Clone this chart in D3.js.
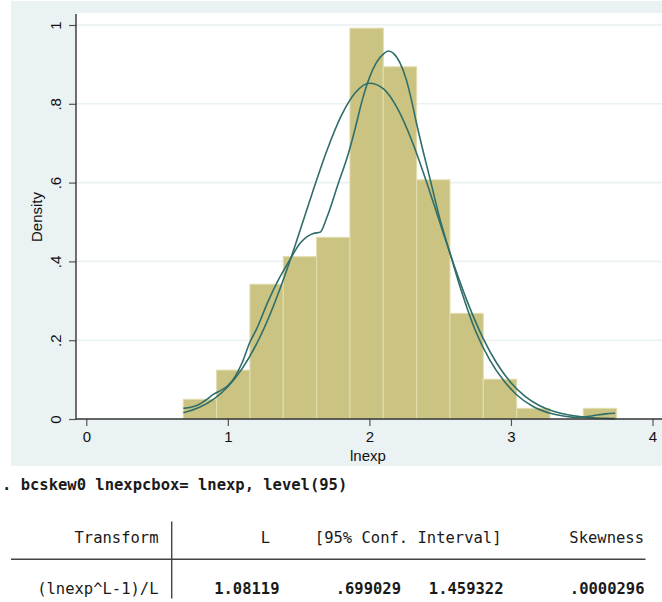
<!DOCTYPE html>
<html>
<head>
<meta charset="utf-8">
<script src="https://cdn.jsdelivr.net/npm/d3@7"></script>
<style>
  body { margin: 0; background: #fff; }
  svg { display: block; }
</style>
</head>
<body>
<svg id="chart" width="662" height="602"></svg>
<script>
// Histogram of lnexp (density scale)
const binStart = 0.685;
const binWidth = 0.2355;
const barDensity = [0.050, 0.124, 0.342, 0.412, 0.461, 0.992, 0.894, 0.607, 0.268, 0.101, 0.027, 0, 0.027];

// Kernel density estimate
const kernelX = [0.686, 0.74, 0.78, 0.84, 0.90, 0.957, 1.00, 1.05, 1.10, 1.157, 1.20, 1.286, 1.35, 1.44, 1.51, 1.56, 1.604, 1.652, 1.70, 1.78, 1.85, 1.90, 1.95, 2.00, 2.05, 2.10, 2.134, 2.17, 2.217, 2.26, 2.30, 2.33, 2.43, 2.50, 2.57, 2.65, 2.747, 2.85, 2.95, 3.042, 3.15, 3.277, 3.38, 3.466, 3.54, 3.607, 3.67, 3.736];
const kernelY = [0.027, 0.030, 0.034, 0.047, 0.063, 0.074, 0.085, 0.107, 0.142, 0.196, 0.226, 0.300, 0.348, 0.405, 0.446, 0.463, 0.471, 0.474, 0.512, 0.598, 0.672, 0.738, 0.810, 0.866, 0.905, 0.927, 0.934, 0.928, 0.903, 0.862, 0.805, 0.755, 0.607, 0.505, 0.420, 0.325, 0.226, 0.150, 0.097, 0.061, 0.033, 0.0145, 0.007, 0.004, 0.006, 0.010, 0.013, 0.0145];

// Normal density overlay
const normalX = [0.686, 0.8, 0.9, 1.0, 1.1, 1.2, 1.3, 1.4, 1.5, 1.6, 1.7, 1.8, 1.9, 2.0, 2.1, 2.2, 2.3, 2.4, 2.5, 2.6, 2.7, 2.8, 2.9, 3.0, 3.1, 3.2, 3.3, 3.4, 3.5, 3.6, 3.7, 3.736];
const normalY = [0.0157, 0.0296, 0.0504, 0.0819, 0.1271, 0.1885, 0.2671, 0.3616, 0.4675, 0.5776, 0.6816, 0.7686, 0.8280, 0.8522, 0.8379, 0.7871, 0.7064, 0.6056, 0.4961, 0.3882, 0.2903, 0.2073, 0.1414, 0.0922, 0.0575, 0.0342, 0.0194, 0.0106, 0.0055, 0.0027, 0.0013, 0.0009];

// Axis ticks and titles
const xTicks = [0, 1, 2, 3, 4];
const yTicks = [0, 0.2, 0.4, 0.6, 0.8, 1];
const yTickLabels = ["0", ".2", ".4", ".6", ".8", "1"];
const xTitle = "lnexp";
const yTitle = "Density";

// Console output below the graph
const command = ". bcskew0 lnexpcbox= lnexp, level(95)";
const headerCells = ["Transform", "L", "[95% Conf. Interval]", "Skewness"];
const rowCells = ["(lnexp^L-1)/L", "1.08119", ".699029", "1.459322", ".0000296"];

const svg = d3.select("#chart");
const sansFont = "'Liberation Sans', Arial, Helvetica, sans-serif";
const monoFont = "'DejaVu Sans Mono', monospace";

// graph region and plot region
const region = { left: 11, top: 1, right: 662, bottom: 466 };
const plot = { left: 76, top: 13, right: 662, bottom: 419 };

svg.append("rect")
  .attr("x", region.left).attr("y", region.top)
  .attr("width", region.right - region.left).attr("height", region.bottom - region.top)
  .attr("fill", "#eaf2f3");

svg.append("rect")
  .attr("x", plot.left).attr("y", plot.top)
  .attr("width", plot.right - plot.left).attr("height", plot.bottom - plot.top)
  .attr("fill", "#ffffff");

const x = d3.scaleLinear().domain([0, 4]).range([86.3, 652.5]);
const y = d3.scaleLinear().domain([0, 1]).range([419, 25]);

// horizontal grid lines
svg.append("g").selectAll("line")
  .data(yTicks.filter(d => d > 0))
  .join("line")
  .attr("x1", plot.left).attr("x2", plot.right)
  .attr("y1", d => y(d)).attr("y2", d => y(d))
  .attr("stroke", "#e9f1f2").attr("stroke-width", 1.6);

// histogram bars
const bars = barDensity.map((d, i) => ({ x0: binStart + i * binWidth, x1: binStart + (i + 1) * binWidth, d }));
svg.append("g").selectAll("rect")
  .data(bars.filter(b => b.d > 0))
  .join("rect")
  .attr("x", b => x(b.x0))
  .attr("y", b => y(b.d))
  .attr("width", b => x(b.x1) - x(b.x0))
  .attr("height", b => y(0) - y(b.d))
  .attr("fill", "#cac381")
  .attr("stroke", "#e1ddae")
  .attr("stroke-width", 1.1);

// density curves
const line = d3.line().x(p => x(p[0])).y(p => y(p[1])).curve(d3.curveMonotoneX);
const curveColor = "#2f6e6a";
svg.append("path")
  .attr("d", line(normalX.map((v, i) => [v, normalY[i]])))
  .attr("fill", "none").attr("stroke", curveColor).attr("stroke-width", 1.6);
svg.append("path")
  .attr("d", line(kernelX.map((v, i) => [v, kernelY[i]])))
  .attr("fill", "none").attr("stroke", curveColor).attr("stroke-width", 1.6);

// y axis
const yAxis = svg.append("g")
  .attr("transform", `translate(${plot.left},0)`)
  .call(d3.axisLeft(y).tickValues(yTicks).tickFormat((d, i) => yTickLabels[i]).tickSize(7).tickSizeOuter(0));
yAxis.select(".domain").remove();
yAxis.selectAll(".tick line").attr("stroke", "#555").attr("stroke-width", 1.2);
yAxis.selectAll(".tick text")
  .attr("x", null).attr("dy", null)
  .attr("text-anchor", "middle")
  .attr("transform", "translate(-15.5,0) rotate(-90)")
  .attr("fill", "#111")
  .style("font-family", sansFont).style("font-size", "15px");

// x axis
const xAxis = svg.append("g")
  .attr("transform", `translate(0,${plot.bottom})`)
  .call(d3.axisBottom(x).tickValues(xTicks).tickFormat(d3.format("d")).tickSize(7).tickSizeOuter(0));
xAxis.select(".domain").remove();
xAxis.selectAll(".tick line").attr("stroke", "#555").attr("stroke-width", 1.2);
xAxis.selectAll(".tick text")
  .attr("y", 23).attr("dy", null)
  .attr("fill", "#111")
  .style("font-family", sansFont).style("font-size", "15px");

// axis lines
svg.append("line")
  .attr("x1", plot.left).attr("x2", plot.left)
  .attr("y1", 14).attr("y2", plot.bottom + 0.5)
  .attr("stroke", "#333").attr("stroke-width", 1.4);
svg.append("line")
  .attr("x1", plot.left).attr("x2", plot.right)
  .attr("y1", plot.bottom).attr("y2", plot.bottom)
  .attr("stroke", "#333").attr("stroke-width", 1.4);

// axis titles
svg.append("text")
  .attr("x", (x(0) + x(4)) / 2 - 1.5).attr("y", 461)
  .attr("text-anchor", "middle").attr("fill", "#111")
  .style("font-family", sansFont).style("font-size", "15px")
  .text(xTitle);
svg.append("text")
  .attr("transform", "translate(42,217) rotate(-90)")
  .attr("text-anchor", "middle").attr("fill", "#111")
  .style("font-family", sansFont).style("font-size", "15px")
  .text(yTitle);

// console output
const out = svg.append("g")
  .style("font-family", monoFont).style("font-size", "15.5px").attr("fill", "#1a1a1a");

out.append("text")
  .attr("x", 2).attr("y", 490)
  .style("font-weight", "bold")
  .text(command);

const headerRight = [158.5, 270, 501.5, 644];
out.selectAll("text.head")
  .data(headerCells)
  .join("text")
  .attr("class", "head")
  .attr("x", (d, i) => headerRight[i]).attr("y", 543)
  .attr("text-anchor", "end")
  .text(d => d);

const rowRight = [158.5, 279.5, 401, 503.5, 644.5];
out.selectAll("text.cell")
  .data(rowCells)
  .join("text")
  .attr("class", "cell")
  .attr("x", (d, i) => rowRight[i]).attr("y", 594)
  .attr("text-anchor", "end")
  .style("font-weight", (d, i) => i === 0 ? "normal" : "bold")
  .text(d => d);

// table rules
svg.append("line")
  .attr("x1", 171.7).attr("x2", 171.7).attr("y1", 521.5).attr("y2", 598.5)
  .attr("stroke", "#444").attr("stroke-width", 1.4);
svg.append("line")
  .attr("x1", 11).attr("x2", 645.5).attr("y1", 559.3).attr("y2", 559.3)
  .attr("stroke", "#444").attr("stroke-width", 1.5);
</script>
</body>
</html>
